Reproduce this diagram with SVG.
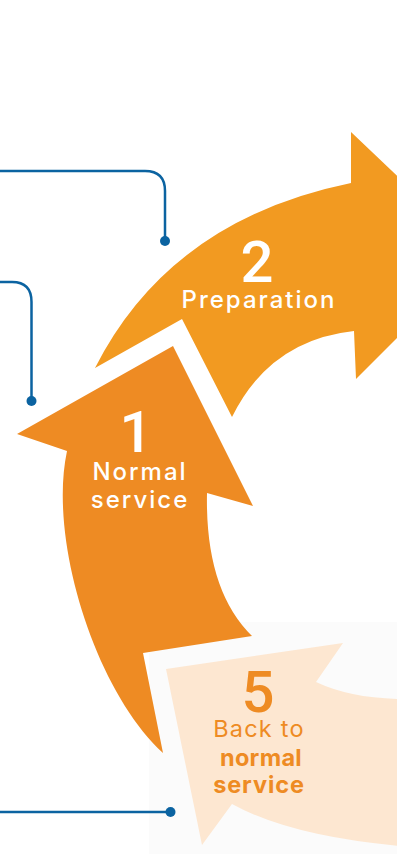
<svg xmlns="http://www.w3.org/2000/svg" width="397" height="854" viewBox="0 0 397 854">
<style>
.conn{fill:none;stroke:#0b63a1;stroke-width:2.5}
.dot{fill:#0b63a1}
.num{font-family:Roboto,"Liberation Sans",Arial,sans-serif;font-size:58px;font-weight:500;text-anchor:middle}
.lbl{font-family:Inter,"Liberation Sans",Arial,sans-serif;font-size:24px;font-weight:500;text-anchor:middle;letter-spacing:2px}
.l5{font-family:Inter,"Liberation Sans",Arial,sans-serif;font-size:23.5px;text-anchor:middle;letter-spacing:1.2px}
.w{fill:#ffffff}
.o{fill:#ee8b23}
</style>
<rect x="149" y="622" width="248" height="232" fill="#fbfbfb"/>
<g id="connectors">
<path class="conn" d="M0 171 H145 Q165 171 165 191 V241"/>
<circle class="dot" cx="165" cy="241" r="5"/>
<path class="conn" d="M0 282 H12 Q31.5 282 31.5 302 V401"/>
<circle class="dot" cx="31.5" cy="401" r="5"/>
<path class="conn" d="M0 812 H170"/>
<circle class="dot" cx="170.5" cy="812" r="5"/>
</g>
<g id="node5">
<path d="M166 669 L343 643 L316 682 Q350 698 400 699 L400 846 Q290 836 232 804 L202 845 Z" fill="#fde7d1"/>
<text class="num o" x="258" y="712">5</text>
<text class="l5 o" x="259" y="737">Back to</text>
<text class="l5 o" x="261" y="766" style="font-weight:700;letter-spacing:0.3px">normal</text>
<text class="l5 o" x="259" y="793" style="font-weight:700;letter-spacing:0.9px">service</text>
</g>
<g id="node1">
<path d="M173 346 L253 506 L207 493 Q205 590 252 636 L143 653 L163 753 C95 690 48 540 67 451 L17 434 Z" fill="#ee8b23"/>
<text class="num w" x="136" y="452">1</text>
<text class="lbl w" x="140" y="480">Normal</text>
<text class="lbl w" x="140" y="508">service</text>
</g>
<g id="node2">
<path d="M95 368 Q170 220 351 183 L351 132 L480 255 L356 379 L354 331 Q270 340 232 417 L182 319 Z" fill="#f29a21"/>
<text class="num w" x="257" y="282">2</text>
<text class="lbl w" x="259" y="308">Preparation</text>
</g>
</svg>
